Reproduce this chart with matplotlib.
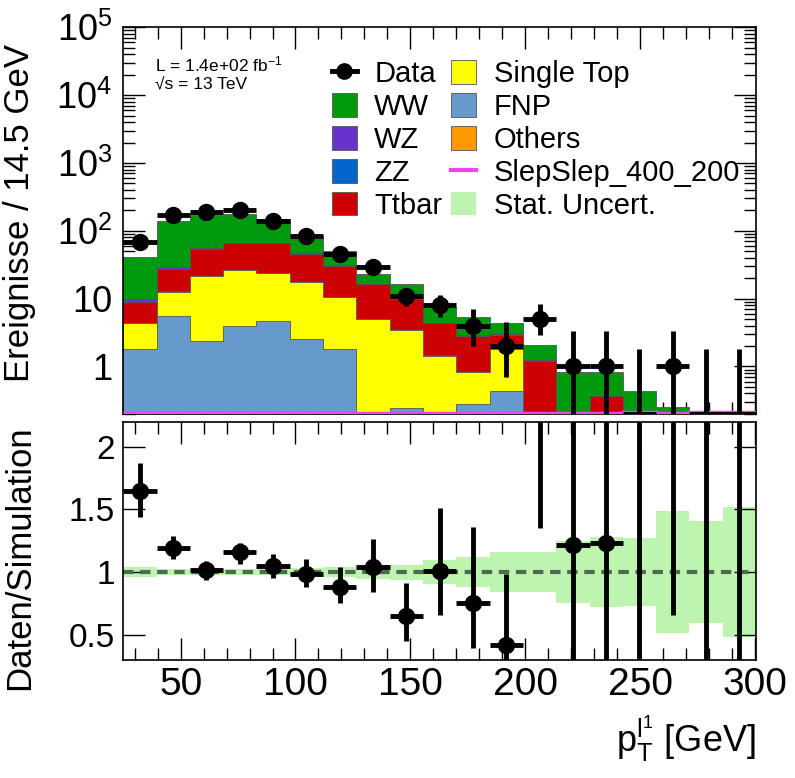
import numpy as np
import matplotlib
matplotlib.use("Agg")
import matplotlib.pyplot as plt
from matplotlib.lines import Line2D
from matplotlib.patches import Patch
from matplotlib.ticker import FixedLocator, MultipleLocator, LogLocator, NullFormatter

plt.rcParams['font.family'] = ['Liberation Sans', 'DejaVu Sans']
plt.rcParams['mathtext.fontset'] = 'custom'
plt.rcParams['mathtext.rm'] = 'Liberation Sans'
plt.rcParams['mathtext.it'] = 'Liberation Sans'
plt.rcParams['mathtext.default'] = 'regular'

# ---------------- data ----------------
x_low = 25.0
bin_width = 14.5
n_bins = 19

data = [69, 172, 186, 199, 140, 85, 46, 29, 11, 8, 4, 2, 5, 1, 1, 0, 1, 0, 0]
data_lo = [8.3, 13, 13.6, 14, 11.8, 9.2, 6.8, 5.4, 3.3, 2.7, 2.0, 1.3, 2.1, 1.0, 1.0, 0, 1.0, 0, 0]
data_hi = [8.3, 13, 13.6, 14, 11.8, 9.2, 6.8, 5.4, 3.3, 3.3, 3.0, 2.6, 3.4, 2.3, 2.3, 1.84, 2.3, 1.84, 1.84]

fnp       = [1.84, 5.6, 2.4, 3.9, 4.7, 2.55, 1.84, 0.0, 0.244, 0.0, 0.28, 0.44, 0, 0, 0, 0, 0, 0, 0]
single_top= [2.46, 6.9, 18.9, 22.1, 19.2, 14.85, 8.56, 5.0, 3.16, 1.45, 0.54, 1.36, 0, 0, 0, 0, 0, 0, 0]
others    = [0.02, 0.03, 0.03, 0.03, 0.02, 0.02, 0.01, 0.01, 0.01, 0, 0, 0, 0, 0, 0, 0, 0, 0, 0]
zz        = [0.1, 0.3, 0.2, 0.2, 0.2, 0.1, 0.1, 0.05, 0.02, 0.01, 0, 0, 0, 0, 0, 0, 0, 0, 0]
ttbar     = [4.4, 14.5, 32.5, 39.8, 41.9, 28.5, 20.0, 11.45, 6.3, 2.93, 2.04, 1.13, 1.22, 0, 0.366, 0, 0, 0, 0]
wz        = [1.2, 1.7, 0.8, 0.8, 0.8, 0.5, 0.3, 0.15, 0.1, 0.05, 0.03, 0.03, 0.01, 0, 0, 0, 0, 0, 0]
ww        = [31.0, 112.0, 113.2, 109.2, 80.2, 37.5, 20.2, 6.3, 6.6, 2.96, 2.41, 1.44, 0.81, 0.83, 0.454, 0.44, 0.25, 0.1, 0.1]
signal    = [0.205, 0.205, 0.205, 0.205, 0.205, 0.205, 0.205, 0.205, 0.205, 0.205, 0.205, 0.205, 0.205, 0.205, 0.205, 0.21, 0.205, 0.21, 0.21]

ratio    = [1.648, 1.195, 1.016, 1.157, 1.05, 0.984, 0.883, 1.043, 0.651, 1.011, 0.755, 0.42, 2.45, 1.216, 1.23, 0.0, 4.0, 0.0, 0.0]
ratio_lo = [0.208, 0.091, 0.08, 0.091, 0.095, 0.104, 0.128, 0.206, 0.198, 0.355, 0.365, 0.36, 1.10, 1.216, 1.23, 0.0, 3.34, 0.0, 0.0]
ratio_hi = [0.226, 0.093, 0.072, 0.077, 0.094, 0.12, 0.155, 0.221, 0.258, 0.504, 0.602, 0.564, 2.0, 2.8, 2.8, 4.2, 5.0, 10.0, 10.0]
stat_rel = [0.04, 0.025, 0.025, 0.025, 0.025, 0.03, 0.04, 0.055, 0.06, 0.095, 0.12, 0.16, 0.16, 0.25, 0.28, 0.27, 0.49, 0.41, 0.52]

layers = [  # bottom -> top
    ("FNP", fnp, '#6699cc'),
    ("Single Top", single_top, '#ffff00'),
    ("Others", others, '#ff9900'),
    ("ZZ", zz, '#0066cc'),
    ("Ttbar", ttbar, '#cc0000'),
    ("WZ", wz, '#6633cc'),
    ("WW", ww, '#009a0f'),
]
sig_color = '#ee44ee'
band_color = '#bdf5b0'

edges = x_low + bin_width * np.arange(n_bins + 1)
centers = 0.5 * (edges[:-1] + edges[1:])

# ---------------- figure ----------------
fig = plt.figure(figsize=(7.95, 7.78), dpi=100)
ax1 = fig.add_axes([0.155, 0.468, 0.796, 0.497])
ax2 = fig.add_axes([0.155, 0.152, 0.796, 0.306], sharex=ax1)

ax1.set_yscale('log', nonpositive='clip')
ax1.set_ylim(0.2, 1e5)
ax1.set_xlim(edges[0], edges[-1])

# stacked histogram (ROOT-like: draw cumulative sums from top down)
cum = np.cumsum(np.array([l[1] for l in layers], dtype=float), axis=0)
for i in reversed(range(len(layers))):
    ax1.stairs(cum[i], edges, baseline=0, fill=True, facecolor=layers[i][2],
               edgecolor='#555555', linewidth=0.6, zorder=2)

# signal
ax1.stairs(signal, edges, baseline=None, color=sig_color, linewidth=2.5, zorder=3)

# data
d = np.array(data, dtype=float)
dl = np.array(data_lo)
dh = np.array(data_hi)
nz = d > 0
ax1.errorbar(centers[nz], d[nz], yerr=[dl[nz], dh[nz]], xerr=bin_width / 2,
             fmt='o', color='k', ms=11.5, elinewidth=3.5, capsize=0, zorder=5)
z = ~nz
ymin = ax1.get_ylim()[0]
ax1.vlines(centers[z], ymin, d[z] + dh[z], color='k', lw=3.5, zorder=5)
ax1.hlines(np.full(z.sum(), ymin), edges[:-1][z], edges[1:][z], color='k', lw=3.5, zorder=5)

# ticks
maj_len, min_len = 16, 8.5
for ax in (ax1, ax2):
    ax.tick_params(which='both', direction='in', top=True, right=True, width=1.0)
    ax.tick_params(which='major', length=maj_len)
    ax.tick_params(which='minor', length=min_len)
    ax.xaxis.set_major_locator(MultipleLocator(50))
    ax.xaxis.set_minor_locator(MultipleLocator(10))
    for s in ax.spines.values():
        s.set_linewidth(1.2)

ytick_vals = [1, 10, 1e2, 1e3, 1e4, 1e5]
ytick_labels = ['1', '10', r'$10^{2}$', r'$10^{3}$', r'$10^{4}$', r'$10^{5}$']
ax1.yaxis.set_major_locator(FixedLocator(ytick_vals))
ax1.set_yticklabels(ytick_labels, fontsize=26)
ax1.yaxis.set_minor_locator(LogLocator(base=10, subs=np.arange(2, 10)))
ax1.yaxis.set_minor_formatter(NullFormatter())
ax1.tick_params(axis='x', labelbottom=False)
ax1.tick_params(axis='y', pad=8)

ax1.set_ylabel("Ereignisse / 14.5 GeV", fontsize=25)
ax1.yaxis.set_label_coords(-0.138, 0.52)

ax1.text(0.05, 0.905, "L = 1.4e+02 fb$^{-1}$", transform=ax1.transAxes, fontsize=12.5, va='center')
ax1.text(0.05, 0.853, "\u221as = 13 TeV", transform=ax1.transAxes, fontsize=12.5, va='center')

# legend
handles = [
    Line2D([], [], color='k', marker='o', ms=11, lw=3.5),
    Patch(facecolor=layers[6][2], edgecolor='#555555', lw=0.6),
    Patch(facecolor=layers[5][2], edgecolor='#555555', lw=0.6),
    Patch(facecolor=layers[3][2], edgecolor='#555555', lw=0.6),
    Patch(facecolor=layers[4][2], edgecolor='#555555', lw=0.6),
    Patch(facecolor=layers[1][2], edgecolor='#555555', lw=0.6),
    Patch(facecolor=layers[0][2], edgecolor='#555555', lw=0.6),
    Patch(facecolor=layers[2][2], edgecolor='#555555', lw=0.6),
    Line2D([], [], color=sig_color, lw=3),
    Patch(facecolor=band_color, edgecolor='none'),
]
labels = ["Data", "WW", "WZ", "ZZ", "Ttbar", "Single Top", "FNP", "Others",
          "SlepSlep_400_200", "Stat. Uncert."]
ax1.legend(handles, labels, ncol=2, loc='upper left', bbox_to_anchor=(0.33, 0.915),
           frameon=False, fontsize=21, handlelength=0.85, handleheight=0.85,
           labelspacing=0.17, handletextpad=0.6, columnspacing=0.3, borderpad=0,
           borderaxespad=0)

# ---------------- ratio ----------------
ax2.set_ylim(0.3, 2.2)
st = np.array(stat_rel)
ax2.stairs(1 + st, edges, baseline=1 - st, fill=True, facecolor=band_color,
           edgecolor='none', zorder=1)
ax2.axhline(1, color='#4f6a4f', ls=(0, (2.5, 1.6)), lw=3, zorder=2)
r = np.array(ratio)
ax2.errorbar(centers, r, yerr=[ratio_lo, ratio_hi], xerr=bin_width / 2,
             fmt='o', color='k', ms=11.5, elinewidth=3.5, capsize=0, zorder=5)
ax2.yaxis.set_major_locator(FixedLocator([0.5, 1, 1.5, 2]))
ax2.set_yticklabels(['0.5', '1', '1.5', '2'], fontsize=24)
ax2.tick_params(axis='x', labelsize=28, pad=5)
ax2.tick_params(axis='y', pad=6)
ax2.yaxis.set_minor_locator(FixedLocator([]))

ax2.set_ylabel("Daten/Simulation", fontsize=25)
ax2.yaxis.set_label_coords(-0.138, 0.43)
ax2.set_xlabel(r"$p_{T}^{l^{1}}$ [GeV]", fontsize=26, loc='right', labelpad=8)

fig.savefig("out.png", dpi=100)
